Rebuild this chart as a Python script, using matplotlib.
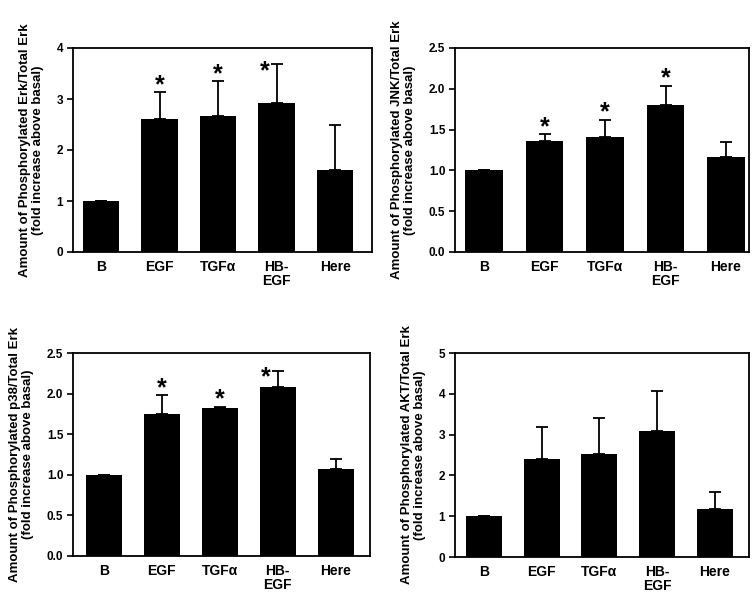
import matplotlib
matplotlib.use('Agg')
import matplotlib.pyplot as plt

plt.rcParams['font.family'] = ['Liberation Sans', 'DejaVu Sans']
plt.rcParams['font.weight'] = 'bold'

groups = ['B', 'EGF', 'TGF\u03b1', 'HB-\nEGF', 'Here']

# means and upward SEMs
erk_mean = [1.0, 2.60, 2.67, 2.92, 1.61]
erk_err = [0.0, 0.54, 0.68, 0.76, 0.89]
jnk_mean = [1.0, 1.36, 1.41, 1.80, 1.16]
jnk_err = [0.0, 0.08, 0.21, 0.24, 0.19]
p38_mean = [1.0, 1.75, 1.82, 2.08, 1.07]
p38_err = [0.0, 0.23, 0.02, 0.20, 0.12]
akt_mean = [1.0, 2.39, 2.52, 3.10, 1.17]
akt_err = [0.0, 0.79, 0.88, 0.97, 0.43]

erk_star = [False, True, True, True, False]
jnk_star = [False, True, True, True, False]
p38_star = [False, True, True, True, False]
akt_star = [False, False, False, False, False]

panels = [
    # mean, err, stars, ylabel, ymax, yticks, fmt, axes rect, xlim, hb star shift
    (erk_mean, erk_err, erk_star, 'Amount of Phosphorylated Erk/Total Erk\n(fold increase above basal)',
     4, [0, 1, 2, 3, 4], '%d', [73, 48, 372, 252], (-0.48, 4.63), -0.2),
    (jnk_mean, jnk_err, jnk_star, 'Amount of Phosphorylated JNK/Total Erk\n(fold increase above basal)',
     2.5, [0, 0.5, 1.0, 1.5, 2.0, 2.5], '%.1f', [455, 48, 749, 252], (-0.48, 4.38), 0.0),
    (p38_mean, p38_err, p38_star, 'Amount of Phosphorylated p38/Total Erk\n(fold increase above basal)',
     2.5, [0, 0.5, 1.0, 1.5, 2.0, 2.5], '%.1f', [73, 353, 370, 556], (-0.53, 4.59), -0.2),
    (akt_mean, akt_err, akt_star, 'Amount of Phosphorylated AKT/Total Erk\n(fold increase above basal)',
     5, [0, 1, 2, 3, 4, 5], '%d', [455, 353, 749, 557], (-0.5, 4.59), 0.0),
]

W, H = 756, 603
fig = plt.figure(figsize=(W / 100, H / 100), dpi=100)

for mean, err, stars, ylabel, ymax, yticks, fmt, rect, xlim, hb_dx in panels:
    l, t, r, b = rect
    ax = fig.add_axes([l / W, 1 - b / H, (r - l) / W, (b - t) / H])
    x = list(range(len(groups)))
    ax.bar(x, mean, width=0.62, color='black', zorder=2)
    ax.errorbar(x, mean, yerr=[[0] * len(err), err], fmt='none', ecolor='black',
                elinewidth=1.3, capsize=4, capthick=1.3, zorder=1)
    for i, s in enumerate(stars):
        if s:
            dx = hb_dx if i == 3 else 0.0
            off = -10 if (i == 3 and dx != 0) else 0
            ax.annotate('*', (x[i] + dx, mean[i] + err[i]), xytext=(0, off),
                        textcoords='offset points', ha='center', va='baseline',
                        fontsize=18, fontweight='bold')
    ax.set_xlim(*xlim)
    ax.set_ylim(0, ymax)
    ax.set_yticks(yticks)
    ax.set_yticklabels([fmt % v for v in yticks], fontsize=8.5, fontweight='bold')
    ax.set_xticks(x)
    ax.set_xticklabels(groups, fontsize=10, fontweight='bold', va='top', linespacing=1.0)
    ax.tick_params(axis='x', length=0, pad=6)
    ax.tick_params(axis='y', direction='out', length=4, width=1.2, pad=3)
    for sp in ax.spines.values():
        sp.set_linewidth(1.3)
    ax.set_ylabel(ylabel, fontsize=9.5, fontweight='bold', labelpad=9, linespacing=1.1)

fig.savefig('out.png', dpi=100)
